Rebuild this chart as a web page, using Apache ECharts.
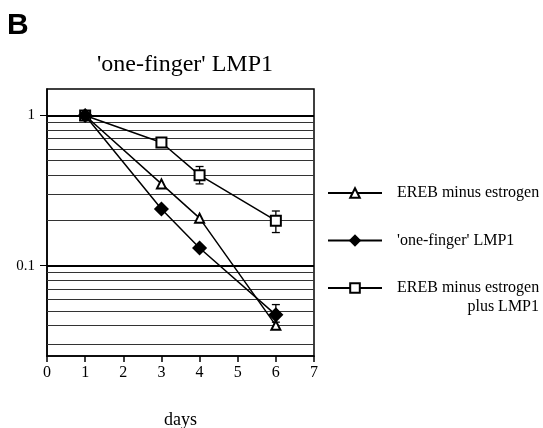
<!DOCTYPE html>
<html><head><meta charset="utf-8">
<script src="https://cdn.jsdelivr.net/npm/echarts@6/dist/echarts.min.js"></script>
<style>html,body{margin:0;padding:0;background:#fff}#c{width:543px;height:428px}</style>
</head><body><div id="c"></div>
<script>
const days = [1, 3, 4, 6];
const xTickValues = [0, 1, 2, 3, 4, 5, 6, 7];
const yLabelValues = [0.1, 1];
const names = ['EREB minus estrogen', "'one-finger' LMP1", 'EREB minus estrogen plus LMP1'];
const serTriangle = [1, 0.35, 0.207, 0.040];
const serDiamond = [1, 0.238, 0.131, 0.047];
const serSquare = [1, 0.66, 0.40, 0.199];
const errSquare = [[4, 0.35, 0.457], [6, 0.166, 0.231]];
const errDiamond = [[6, 0.042, 0.055]];
const gridMajor = [1, 0.1];
const gridMinor = [0.9, 0.8, 0.7, 0.6, 0.5, 0.4, 0.3, 0.2, 0.09, 0.08, 0.07, 0.06, 0.05, 0.04, 0.03];

const serif = 'Liberation Serif';
const chart = echarts.init(document.getElementById('c'));
const pairs = arr => days.map((d, i) => [d, arr[i]]);
const lineSeries = (name, arr, symbol, size, z) => ({
  name, type: 'line', data: pairs(arr), symbol, symbolSize: size, z,
  lineStyle: { color: '#000', width: 1.5 },
  itemStyle: { color: '#000', borderColor: '#000', borderWidth: 1.5 },
  emphasis: { disabled: true }, animation: false
});
const errRender = (params, api) => {
  const x = api.value(0), lo = api.value(1), hi = api.value(2);
  const a = api.coord([x, lo]), b = api.coord([x, hi]);
  const w = 4, st = { stroke: '#000', lineWidth: 1.3 };
  return { type: 'group', children: [
    { type: 'line', shape: { x1: a[0], y1: a[1], x2: b[0], y2: b[1] }, style: st },
    { type: 'line', shape: { x1: a[0] - w, y1: a[1], x2: a[0] + w, y2: a[1] }, style: st },
    { type: 'line', shape: { x1: b[0] - w, y1: b[1], x2: b[0] + w, y2: b[1] }, style: st }
  ]};
};
const option = {
  backgroundColor: '#fff',
  animation: false,
  title: [
    { text: 'B', left: 2, top: 6, textStyle: { fontFamily: 'Liberation Sans', fontWeight: 'bold', fontSize: 30, color: '#000' } },
    { text: "'one-finger' LMP1", left: 180, top: 48, textAlign: 'center', textStyle: { fontFamily: serif, fontWeight: 'normal', fontSize: 24, color: '#000' } }
  ],
  grid: { left: 47, top: 89, width: 267, height: 267, show: true, borderColor: '#000', borderWidth: 1.5, backgroundColor: 'transparent', outerBoundsMode: 'none', containLabel: false },
  legend: {
    data: names, orient: 'vertical', left: 322, top: 180, itemWidth: 54, itemHeight: 12, itemGap: 31.5,
    selectedMode: false,
    formatter: n => n === names[2] ? 'EREB minus estrogen' : n,
    textStyle: { fontFamily: serif, fontSize: 16, color: '#000', padding: [0, 0, 0, 10] }
  },
  graphic: [
    { type: 'text', right: 4, top: 299, style: { text: 'plus LMP1', font: '16px "Liberation Serif"', fill: '#000' } }
  ],
  xAxis: {
    type: 'value', min: 0, max: 7, interval: 1,
    name: 'days', nameLocation: 'middle', nameGap: 55,
    nameTextStyle: { fontFamily: serif, fontSize: 18, color: '#000' },
    axisLine: { lineStyle: { color: '#000', width: 1.5 } },
    axisTick: { show: true, inside: false, length: 6, lineStyle: { color: '#000', width: 1.5 } },
    axisLabel: { fontFamily: serif, fontSize: 16, color: '#000', margin: 9,
      formatter: v => xTickValues.includes(v) ? String(v) : '' },
    splitLine: { show: false }
  },
  yAxis: {
    type: 'log', logBase: 10, min: 0.025, max: 1.5,
    axisLine: { show: true, lineStyle: { color: '#000', width: 1.5 } },
    axisTick: { show: true, length: 7, lineStyle: { color: '#000', width: 1 }, customValues: yLabelValues },
    axisLabel: { fontFamily: serif, fontSize: 15, color: '#000', margin: 12, customValues: yLabelValues,
      formatter: v => { const r = yLabelValues.find(t => Math.abs(t - v) < 1e-9); return r === undefined ? '' : String(r); } },
    splitLine: { show: false }
  },
  series: [
    Object.assign(lineSeries(names[0], serTriangle, 'emptyTriangle', 9, 5), {
      markLine: { silent: true, symbol: 'none', label: { show: false }, animation: false, z: 1,
        data: gridMinor.map(v => ({ yAxis: v, lineStyle: { color: '#333', width: 1, type: 'solid' } }))
          .concat(gridMajor.map(v => ({ yAxis: v, lineStyle: { color: '#000', width: 2, type: 'solid' } }))) }
    }),
    lineSeries(names[1], serDiamond, 'diamond', 13, 6),
    lineSeries(names[2], serSquare, 'emptyRect', 10, 5),
    { type: 'custom', renderItem: errRender, data: errSquare, encode: { x: 0, y: [1, 2] }, z: 3, silent: true },
    { type: 'custom', renderItem: errRender, data: errDiamond, encode: { x: 0, y: [1, 2] }, z: 3, silent: true }
  ]
};
chart.setOption(option);
</script>
</body></html>
